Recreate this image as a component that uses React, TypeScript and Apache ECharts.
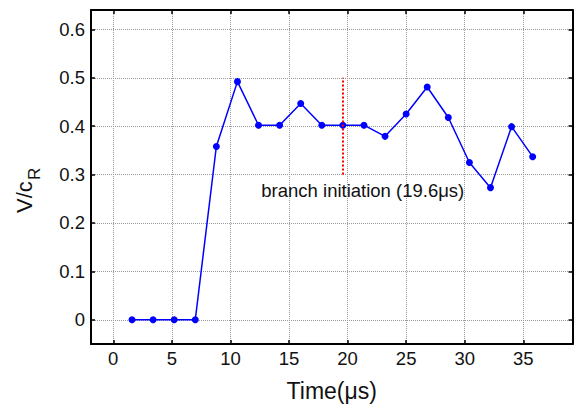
import React, { useEffect, useRef } from "react";
import * as echarts from "echarts";

const times = [1.6, 3.4, 5.2, 7.0, 8.8, 10.6, 12.4, 14.2, 16.0, 17.8, 19.6, 21.4, 23.2, 25.0, 26.8, 28.6, 30.4, 32.2, 34.0, 35.8];
const velocity = [0, 0, 0, 0, 0.358, 0.492, 0.402, 0.402, 0.447, 0.402, 0.402, 0.402, 0.379, 0.425, 0.481, 0.418, 0.325, 0.273, 0.399, 0.337];
const xTicks = [0, 5, 10, 15, 20, 25, 30, 35];
const yTicks = [0, 0.1, 0.2, 0.3, 0.4, 0.5, 0.6];
const xRange = [-1.9, 39.2];
const yRange = [-0.05, 0.64];
const branchTime = 19.6;
const branchSpan = [0.3, 0.5];
const branchLabel = "branch initiation (19.6\u03bcs)";
const branchLabelPos = [21.3, 0.268];
const xTitle = "Time(\u03bcs)";

const FONT = "'Liberation Sans', Arial, Helvetica, sans-serif";

export default function App() {
  const ref = useRef<HTMLDivElement>(null);
  useEffect(() => {
    document.body.style.margin = "0";
    if (!ref.current) return;
    const chart = echarts.init(ref.current, undefined, { renderer: "svg" });
    const axisCommon = (isX: boolean, show: boolean) => ({
      type: "value",
      min: isX ? xRange[0] : yRange[0],
      max: isX ? xRange[1] : yRange[1],
      axisLine: { show: true, onZero: false, lineStyle: { color: "#000", width: 2 } },
      axisTick: {
        show: true,
        inside: true,
        length: 4,
        lineStyle: { color: "#000", width: 1.5 },
        customValues: isX ? xTicks : yTicks,
      },
      axisLabel: {
        show,
        customValues: isX ? xTicks : yTicks,
        fontSize: 18.5,
        fontFamily: FONT,
        color: "#111",
        margin: isX ? 5 : 6,
      },
      splitLine: {
        show,
        lineStyle: { color: "#999", type: "dotted", width: 1 },
      },
    });
    chart.setOption({
      animation: false,
      backgroundColor: "#fff",
      grid: { left: 91, top: 10, right: 4.5, bottom: 63, containLabel: false, outerBoundsMode: "none" },
      xAxis: [
        {
          ...axisCommon(true, true),
          position: "bottom",
          name: xTitle,
          nameLocation: "middle",
          nameGap: 35,
          nameTextStyle: { fontSize: 23, fontFamily: FONT, color: "#111" },
        },
        { ...axisCommon(true, false), position: "top" },
      ],
      yAxis: [
        { ...axisCommon(false, true), position: "left" },
        { ...axisCommon(false, false), position: "right" },
      ],
      graphic: [
        {
          type: "group",
          x: 32.3,
          y: 213,
          rotation: Math.PI / 2,
          children: [
            {
              type: "text",
              x: 0,
              y: -7.7,
              style: { text: "V/c", fontSize: 22, fontFamily: FONT, fill: "#111", align: "left", verticalAlign: "middle" },
            },
            {
              type: "text",
              x: 33,
              y: 2,
              style: { text: "R", fontSize: 17, fontFamily: FONT, fill: "#111", align: "left", verticalAlign: "middle" },
            },
          ],
        },
      ],
      series: [
        {
          type: "line",
          data: times.map((t, i) => [t, velocity[i]]),
          symbol: "circle",
          symbolSize: 7,
          itemStyle: { color: "#0000ff" },
          lineStyle: { color: "#0000ff", width: 1.5 },
          markLine: {
            silent: true,
            symbol: ["none", "none"],
            label: { show: false },
            lineStyle: { color: "#ff0000", type: "dotted", width: 2 },
            data: [[{ coord: [branchTime, branchSpan[0]] }, { coord: [branchTime, branchSpan[1]] }]],
          },
          markPoint: {
            silent: true,
            symbol: "circle",
            symbolSize: 0,
            label: {
              show: true,
              position: "inside",
              formatter: branchLabel,
              fontSize: 18.5,
              fontFamily: FONT,
              color: "#111",
            },
            data: [{ coord: branchLabelPos }],
          },
        },
      ],
    });
    return () => chart.dispose();
  }, []);
  return <div ref={ref} style={{ width: 577, height: 407 }} />;
}
